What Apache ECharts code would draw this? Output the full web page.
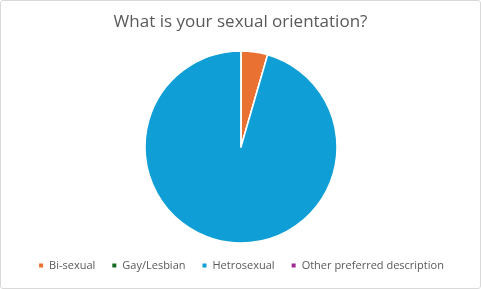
<!DOCTYPE html>
<html><head><meta charset="utf-8">
<script src="https://cdn.jsdelivr.net/npm/echarts@6/dist/echarts.min.js"></script>
<style>html,body{margin:0;padding:0;background:#fff}#c{width:479px;height:287px;border:1px solid #d9d9d9;border-radius:3px}</style>
</head><body><div id="c"></div>
<script>
const categories = ['Bi-sexual', 'Gay/Lesbian', 'Hetrosexual', 'Other preferred description'];
const values = [3, 0, 64, 0];
const colors = ['#E97132', '#196B24', '#0F9ED5', '#A02B93'];
const chart = echarts.init(document.getElementById('c'));
chart.setOption({
  animation: false,
  title: {text: 'What is your sexual orientation?', left: 'center', top: 8,
    textStyle: {fontFamily: 'Open Sans', fontSize: 17, fontWeight: 'normal', color: '#595959'}},
  legend: {bottom: 12, left: 'center', itemWidth: 6, itemHeight: 6, itemGap: 15, icon: 'rect',
    textStyle: {fontFamily: 'Open Sans', fontSize: 11, color: '#595959'},
    data: categories},
  series: [{type: 'pie', center: [240, 146], radius: 96, startAngle: 90, clockwise: true,
    label: {show: false}, labelLine: {show: false},
    itemStyle: {borderColor: '#fff', borderWidth: 1.5},
    emphasis: {disabled: true},
    data: categories.map((n, i) => ({name: n, value: values[i], itemStyle: {color: colors[i]}}))}]
});
</script></body></html>
